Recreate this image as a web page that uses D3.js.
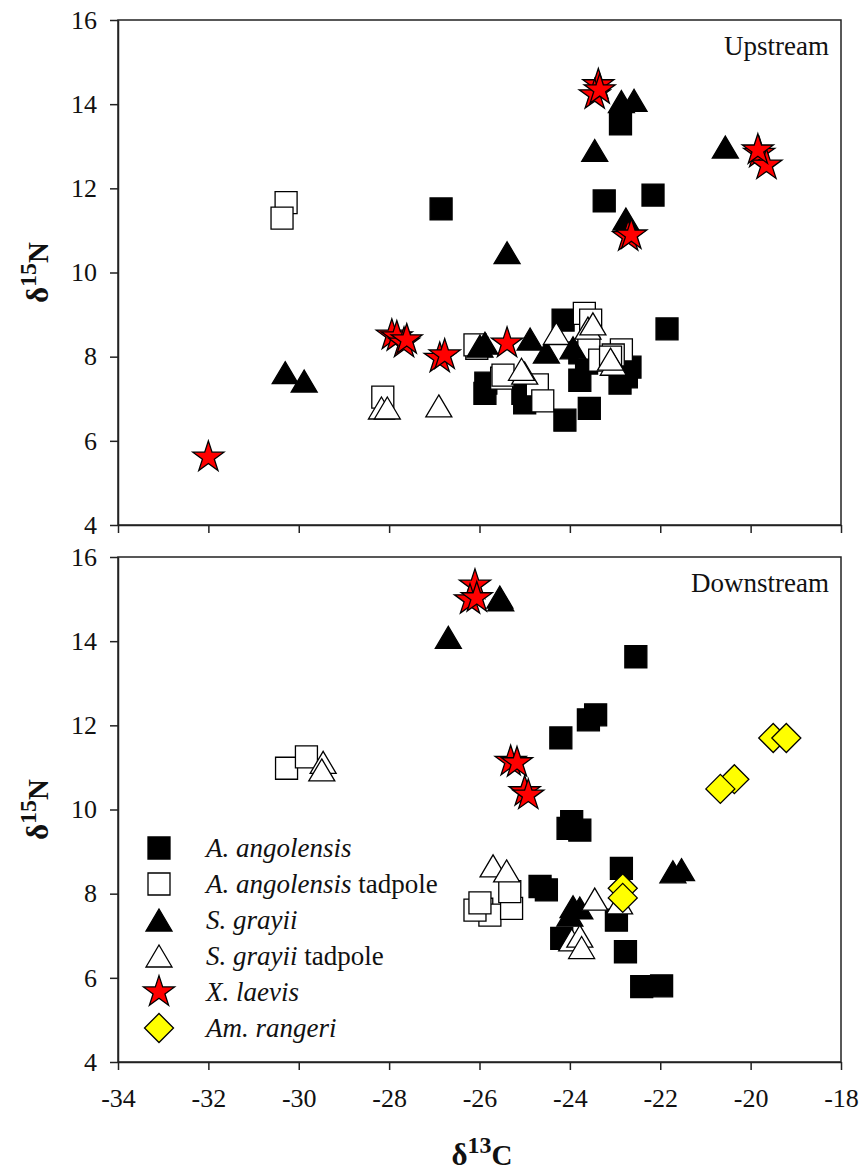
<!DOCTYPE html>
<html>
<head>
<meta charset="utf-8">
<script src="https://cdn.jsdelivr.net/npm/d3@7"></script>
<style>
  body { margin: 0; background: #fff; }
  svg text { font-family: "Liberation Serif", "Times New Roman", serif; fill: #111; }
</style>
</head>
<body>
<svg id="chart"></svg>
<script>
// Values: [d13C, d15N]
const upAngolensis = [[-26.85,11.51],[-22.88,13.53],[-23.24,11.70],[-22.16,11.84],[-21.85,8.66],[-24.15,8.87],
  [-25.88,7.13],[-25.86,7.37],[-25.0,6.9],[-25.04,7.13],[-24.11,6.49],[-23.57,6.77],[-23.78,7.44],[-23.63,7.85],
  [-23.78,8.09],[-22.89,7.37],[-22.75,7.52],[-22.67,7.75]];
const upAngolensisTad = [[-30.28,11.66],[-30.37,11.29],[-28.14,7.04],[-26.06,8.20],[-26.1,8.28],[-25.51,7.49],
  [-25.48,7.56],[-24.72,7.33],[-24.6,6.95],[-23.68,9.03],[-23.54,8.87],[-23.58,8.2],[-23.34,7.92],[-22.86,8.16],
  [-23.04,8.04],[-23.1,7.99]];
const upGrayii = [[-30.3,7.62],[-29.88,7.42],[-22.86,14.06],[-22.58,14.09],[-23.45,12.9],[-20.56,12.98],
  [-22.76,11.27],[-25.39,10.47],[-25.88,8.32],[-25.99,8.25],[-24.88,8.42],[-24.52,8.11],[-23.93,8.21]];
const upGrayiiTad = [[-28.17,6.78],[-28.04,6.78],[-26.9,6.83],[-24.3,8.55],[-23.6,8.68],[-23.49,8.78],
  [-25.0,7.61],[-25.07,7.7],[-23.04,7.82],[-23.1,7.94]];
const upLaevis = [[-32.0,5.61],[-27.94,8.51],[-27.83,8.47],[-27.67,8.32],[-27.61,8.4],[-26.88,7.96],[-26.77,8.04],
  [-25.39,8.32],[-23.37,14.46],[-23.45,14.22],[-23.34,14.34],[-19.81,12.83],[-19.65,12.55],[-19.84,12.91],
  [-22.71,10.85],[-22.64,10.89]];

const downAngolensis = [[-22.54,13.63],[-23.43,12.25],[-23.59,12.13],[-24.2,11.7],[-24.04,9.55],[-23.78,9.51],
  [-23.96,9.71],[-24.66,8.17],[-24.52,8.09],[-22.86,8.6],[-22.97,7.37],[-22.77,6.62],[-24.18,6.94],[-22.41,5.79],
  [-21.97,5.81]];
const downAngolensisTad = [[-30.27,10.98],[-29.83,11.25],[-25.95,7.63],[-25.77,7.49],[-25.29,7.65],[-25.33,8.05],
  [-26.1,7.61],[-25.99,7.78]];
const downGrayii = [[-26.69,14.09],[-25.53,14.98],[-25.55,15.05],[-21.72,8.52],[-21.53,8.57],[-23.93,7.69],
  [-23.78,7.66],[-24.0,7.49]];
const downGrayiiTad = [[-29.46,11.12],[-29.49,10.94],[-25.7,8.66],[-25.4,8.54],[-23.45,7.87],[-22.9,7.78],
  [-23.96,6.9],[-23.78,6.99],[-23.74,6.72]];
const downLaevis = [[-26.1,15.33],[-26.21,14.98],[-26.06,15.03],[-25.31,11.14],[-25.17,11.11],[-25.0,10.42],
  [-24.92,10.34]];
const downRangeri = [[-19.5,11.7],[-19.21,11.7],[-20.36,10.72],[-20.67,10.49],[-22.83,8.13],[-22.83,7.9]];

const xTicks = [-34, -32, -30, -28, -26, -24, -22, -20, -18];
const yTicks = [4, 6, 8, 10, 12, 14, 16];

const width = 861, height = 1175;
const svg = d3.select("#chart").attr("width", width).attr("height", height);

const x = d3.scaleLinear().domain([-34, -18]).range([118, 841]);

// marker shapes
const shapes = {
  square: "M-11,-11H11V11H-11Z",
  triangle: "M0,-11L13,11H-13Z",
  diamond: "M0,-14.5L14.5,0L0,14.5L-14.5,0Z",
  star: d3.symbol(d3.symbolStar, 300)()
};
const kinds = {
  ang:    { shape: "square",   fill: "#000" },
  angTad: { shape: "square",   fill: "#fff" },
  gra:    { shape: "triangle", fill: "#000" },
  graTad: { shape: "triangle", fill: "#fff" },
  lae:    { shape: "star",     fill: "#ff0000" },
  ran:    { shape: "diamond",  fill: "#ffff00" }
};

function drawPanel(top, bottom, label, showXLabels, series) {
  const y = d3.scaleLinear().domain([4, 16]).range([bottom, top]);
  const g = svg.append("g");

  // frame
  g.append("rect")
    .attr("x", x(-34)).attr("y", top)
    .attr("width", x(-18) - x(-34)).attr("height", bottom - top)
    .attr("fill", "none").attr("stroke", "#222").attr("stroke-width", 1.5);

  const yAxis = g.append("g")
    .attr("transform", `translate(${x(-34)},0)`)
    .call(d3.axisLeft(y).tickValues(yTicks).tickSizeInner(8).tickSizeOuter(0).tickPadding(13));
  const xAxis = g.append("g")
    .attr("transform", `translate(0,${bottom})`)
    .call(d3.axisBottom(x).tickValues(xTicks).tickSizeInner(8).tickSizeOuter(0).tickPadding(19)
      .tickFormat(showXLabels ? d => d : ""));
  [yAxis, xAxis].forEach(a => {
    a.selectAll("path, line").attr("stroke", "#222").attr("stroke-width", 1.5);
    a.selectAll("text")
      .style("font-size", "26px")
      .style("font-family", "'Liberation Serif', 'Times New Roman', serif")
      .style("fill", "#111");
  });

  // points, drawn in the same order as the original (later ones on top)
  series.forEach(s => {
    const k = kinds[s.kind];
    g.append("g").selectAll("path")
      .data(s.data)
      .enter().append("path")
      .attr("d", shapes[k.shape])
      .attr("transform", d => `translate(${x(d[0])},${y(d[1])})`)
      .attr("fill", k.fill)
      .attr("stroke", "#000")
      .attr("stroke-width", 1.3);
  });

  g.append("text")
    .attr("x", 829).attr("y", top + 35)
    .attr("text-anchor", "end")
    .attr("font-size", 27)
    .text(label);

  // y title: delta 15 N
  const yt = g.append("text")
    .attr("transform", `translate(48,${(top + bottom) / 2}) rotate(-90)`)
    .attr("text-anchor", "middle")
    .attr("font-size", 31).attr("font-weight", "bold");
  yt.append("tspan").text("δ");
  yt.append("tspan").attr("dy", -12).attr("font-size", 24).text("15");
  yt.append("tspan").attr("dy", 12).attr("font-size", 29).text("N");
}

drawPanel(20, 525, "Upstream", false, [
  { kind: "ang", data: upAngolensis },
  { kind: "angTad", data: upAngolensisTad },
  { kind: "gra", data: upGrayii },
  { kind: "graTad", data: upGrayiiTad },
  { kind: "lae", data: upLaevis }
]);

drawPanel(557, 1062, "Downstream", true, [
  { kind: "ang", data: downAngolensis },
  { kind: "angTad", data: downAngolensisTad },
  { kind: "gra", data: downGrayii },
  { kind: "graTad", data: downGrayiiTad },
  { kind: "lae", data: downLaevis },
  { kind: "ran", data: downRangeri }
]);

// x title: delta 13 C
const xt = svg.append("text")
  .attr("x", 482).attr("y", 1165)
  .attr("text-anchor", "middle")
  .attr("font-size", 31).attr("font-weight", "bold");
xt.append("tspan").text("δ");
xt.append("tspan").attr("dy", -12).attr("font-size", 24).text("13");
xt.append("tspan").attr("dy", 12).attr("font-size", 29).text("C");

// legend
const legendItems = [
  { kind: "ang", name: "A. angolensis", extra: "" },
  { kind: "angTad", name: "A. angolensis", extra: " tadpole" },
  { kind: "gra", name: "S. grayii", extra: "" },
  { kind: "graTad", name: "S. grayii", extra: " tadpole" },
  { kind: "lae", name: "X. laevis", extra: "" },
  { kind: "ran", name: "Am. rangeri", extra: "" }
];
const legend = svg.selectAll(".legend")
  .data(legendItems)
  .enter().append("g")
  .attr("class", "legend")
  .attr("transform", (d, i) => `translate(159,${848 + i * 36})`);

legend.append("path")
  .attr("d", d => shapes[kinds[d.kind].shape])
  .attr("fill", d => kinds[d.kind].fill)
  .attr("stroke", "#000")
  .attr("stroke-width", 1.3);

const lt = legend.append("text")
  .attr("x", 47).attr("y", 9)
  .attr("font-size", 27);
lt.append("tspan").attr("font-style", "italic").text(d => d.name);
lt.append("tspan").text(d => d.extra);
</script>
</body>
</html>
